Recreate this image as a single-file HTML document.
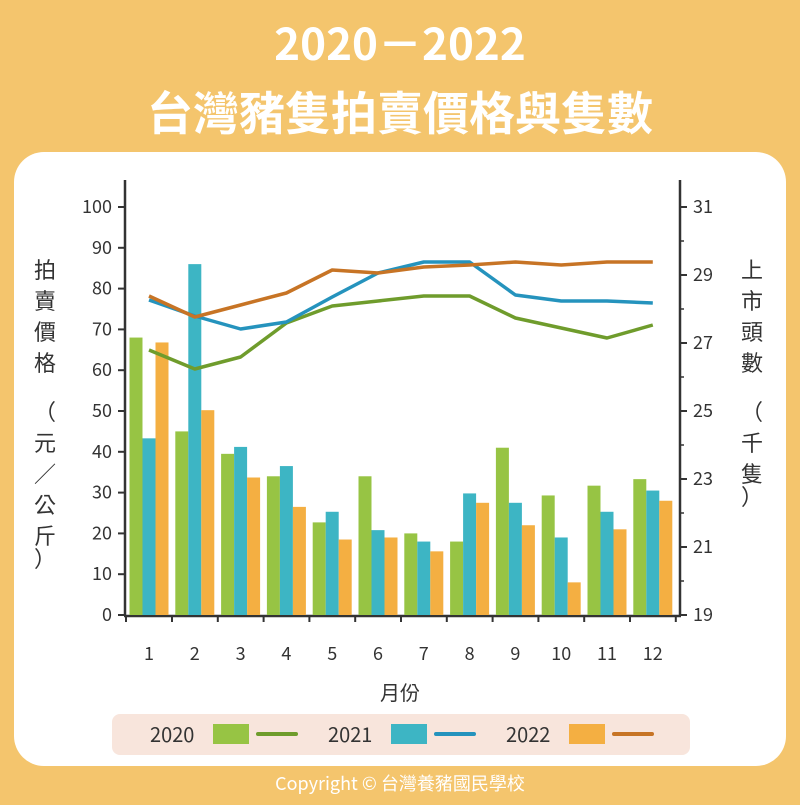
<!DOCTYPE html>
<html><head><meta charset="utf-8"><style>
body{margin:0;width:800px;height:800px;background:#f4c56d;overflow:hidden}
</style></head><body>
<svg width="800" height="800" viewBox="0 0 800 800" xmlns="http://www.w3.org/2000/svg" font-family="'Noto Sans CJK TC','Liberation Sans',sans-serif">
<rect width="800" height="800" fill="#f4c56d"/>
<text x="400" y="60" text-anchor="middle" font-size="44" font-weight="bold" fill="#fff">2020－2022</text>
<text x="400" y="130" text-anchor="middle" font-size="46" font-weight="bold" fill="#fff">台灣豬隻拍賣價格與隻數</text>
<rect x="14" y="152" width="772" height="614" rx="30" fill="#fff"/>
<g stroke="#333" stroke-width="2.5" fill="none">
<line x1="125" y1="180" x2="125" y2="616"/>
<line x1="680" y1="180" x2="680" y2="616"/>
<line x1="124" y1="616" x2="681" y2="616"/>
</g>
<g id="bars"></g>
<g id="lines"></g>
<g id="ticks" font-size="18" fill="#333"></g>
<text x="400" y="700" text-anchor="middle" font-size="20" fill="#333">月份</text>
<g font-size="22" fill="#333" text-anchor="middle">
<text x="45" y="278">拍</text><text x="45" y="309">賣</text><text x="45" y="340">價</text><text x="45" y="371">格</text>
<text x="45" y="420">（</text><text x="45" y="451">元</text><text x="45" y="482">／</text><text x="45" y="513">公</text><text x="45" y="544">斤</text><text x="45" y="567">）</text>
<text x="752" y="278">上</text><text x="752" y="309">市</text><text x="752" y="340">頭</text><text x="752" y="371">數</text>
<text x="752" y="420">（</text><text x="752" y="451">千</text><text x="752" y="482">隻</text><text x="752" y="505">）</text>
</g>
<rect x="112" y="714" width="578" height="41" rx="8" fill="#f8e5dc"/>
<g font-size="20" fill="#333">
<text x="150" y="742">2020</text><rect x="213" y="724" width="36" height="20" fill="#97c444"/><line x1="258" y1="734" x2="296" y2="734" stroke="#6f9c2c" stroke-width="4" stroke-linecap="round"/>
<text x="328" y="742">2021</text><rect x="391" y="724" width="36" height="20" fill="#3db5c4"/><line x1="436" y1="734" x2="474" y2="734" stroke="#2593bd" stroke-width="4" stroke-linecap="round"/>
<text x="506" y="742">2022</text><rect x="569" y="724" width="36" height="20" fill="#f4af42"/><line x1="614" y1="734" x2="652" y2="734" stroke="#c77425" stroke-width="4" stroke-linecap="round"/>
</g>
<text x="400" y="790" text-anchor="middle" font-size="18" fill="#fff">Copyright © 台灣養豬國民學校</text>
</svg>
<script>
const ns="http://www.w3.org/2000/svg";
function el(p,t,a,txt){const e=document.createElementNS(ns,t);for(const k in a)e.setAttribute(k,a[k]);if(txt!==undefined)e.textContent=txt;document.getElementById(p).appendChild(e);}
const y0=615,s=4.08;
const b=[[68,45,39.5,34,22.7,34,20,18,41,29.3,31.7,33.3],[43.3,86,41.2,36.5,25.3,20.8,18,29.8,27.5,19,25.3,30.5],[66.8,50.2,33.7,26.5,18.5,19,15.6,27.5,22,8,21,28]];
const bc=["#97c444","#3db5c4","#f4af42"];
const xc=i=>149+i*45.8;
for(let k=0;k<3;k++)for(let i=0;i<12;i++){const h=b[k][i]*s;el("bars","rect",{x:xc(i)-19.5+k*13,y:y0-h,width:13,height:h,fill:bc[k]});}
const L=[[350,369,357,323,306,301,296,296,318,328,338,325],[300,316,329,322,297,273,262,262,295,301,301,303],[296,317,305,293,270,273,267,265,262,265,262,262]];
const lc=["#6f9c2c","#2593bd","#c77425"];
for(let k=0;k<3;k++)el("lines","polyline",{points:L[k].map((y,i)=>xc(i)+","+y).join(" "),fill:"none",stroke:lc[k],"stroke-width":3.5,"stroke-linejoin":"round"});
for(let v=0;v<=100;v+=10){const y=y0-v*s;el("ticks","line",{x1:118,x2:125,y1:y,y2:y,stroke:"#333","stroke-width":2});el("ticks","text",{x:112,y:y+6,"text-anchor":"end"},v);}
for(let v=19;v<=31;v+=2){const y=y0-(v-19)*34;el("ticks","line",{x1:680,x2:687,y1:y,y2:y,stroke:"#333","stroke-width":2});el("ticks","text",{x:693,y:y+6},v);}
for(let v=20;v<=30;v+=2){const y=y0-(v-19)*34;el("ticks","line",{x1:680,x2:684,y1:y,y2:y,stroke:"#333","stroke-width":1.5});}
for(let i=0;i<12;i++){el("ticks","line",{x1:xc(i)+23,x2:xc(i)+23,y1:616,y2:622,stroke:"#333","stroke-width":2});el("ticks","text",{x:xc(i),y:660,"text-anchor":"middle"},i+1);}
el("ticks","line",{x1:126,x2:126,y1:616,y2:622,stroke:"#333","stroke-width":2});
</script>
</body></html>
